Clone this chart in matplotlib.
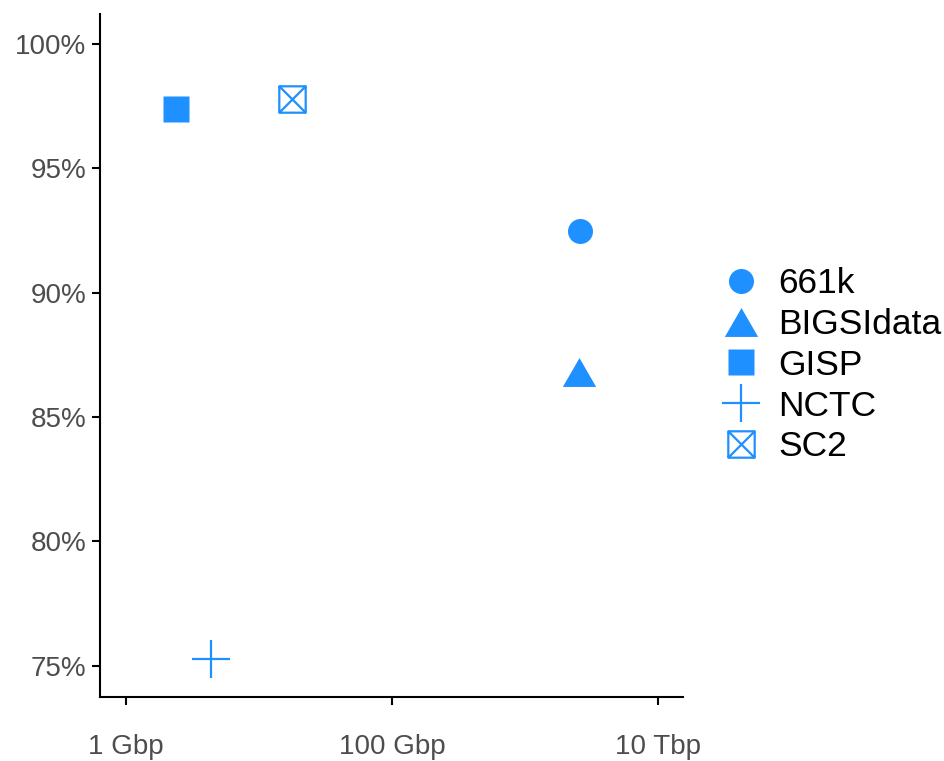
import matplotlib
matplotlib.use('Agg')
import matplotlib.pyplot as plt
from matplotlib.path import Path
from matplotlib.ticker import FixedLocator, FixedFormatter

plt.rcParams['font.family'] = ['Liberation Sans', 'DejaVu Sans']

# data
names = ['661k', 'BIGSIdata', 'GISP', 'NCTC', 'SC2']
size_gbp = [2590, 2550, 2.38, 4.36, 17.7]      # x, Gbp
recall = [92.48, 86.82, 97.39, 75.28, 97.79]   # y, %
xticks_gbp = [1, 100, 10000]
xtick_labels = ['1 Gbp', '100 Gbp', '10 Tbp']
yticks = [75, 80, 85, 90, 95, 100]

col = '#1E90FF'

# triangle (equilateral) and boxed cross markers
tri = Path([(-1, -0.866), (1, -0.866), (0, 0.866), (-1, -0.866)],
           [Path.MOVETO, Path.LINETO, Path.LINETO, Path.CLOSEPOLY])
boxx = Path([(-1, -1), (1, -1), (1, 1), (-1, 1), (-1, -1),
             (-1, -1), (1, 1), (-1, 1), (1, -1)],
            [Path.MOVETO, Path.LINETO, Path.LINETO, Path.LINETO, Path.CLOSEPOLY,
             Path.MOVETO, Path.LINETO, Path.MOVETO, Path.LINETO])

styles = {
    '661k': dict(marker='o', ms=18, mfc=col, mec='none'),
    'BIGSIdata': dict(marker=tri, ms=24, mfc=col, mec='none'),
    'GISP': dict(marker='s', ms=18.5, mfc=col, mec='none'),
    'NCTC': dict(marker='+', ms=28, mec=col, mew=1.6),
    'SC2': dict(marker=boxx, ms=19, mfc='none', mec=col, mew=1.6),
}

fig = plt.figure(figsize=(9.45, 7.61), dpi=100)
ax = fig.add_axes([0.1058, 0.0841, 0.617, 0.8975])

for n, x, y in zip(names, size_gbp, recall):
    ax.plot([x], [y], linestyle='none', label=n, **styles[n])

ax.set_xscale('log')
ax.set_xlim(0.638, 15400)
ax.set_ylim(73.75, 101.2)
ax.xaxis.set_major_locator(FixedLocator(xticks_gbp))
ax.xaxis.set_major_formatter(FixedFormatter(xtick_labels))
ax.xaxis.set_minor_locator(FixedLocator([]))
ax.set_yticks(yticks)
ax.set_yticklabels(['%d%%' % v for v in yticks])

for s in ['top', 'right']:
    ax.spines[s].set_visible(False)
for s in ['left', 'bottom']:
    ax.spines[s].set_linewidth(1.5)
ax.tick_params(axis='both', length=6, width=1.5, colors='black',
               labelcolor='#4D4D4D', labelsize=20)
ax.tick_params(axis='x', pad=21)
ax.tick_params(axis='y', pad=4)

leg = ax.legend(loc='center left', bbox_to_anchor=(0.741, 0.52),
                bbox_transform=fig.transFigure, frameon=False,
                fontsize=25.5, labelspacing=0.22, handletextpad=0.3,
                handlelength=1.5, borderaxespad=0)

fig.savefig('out.png', dpi=100)
